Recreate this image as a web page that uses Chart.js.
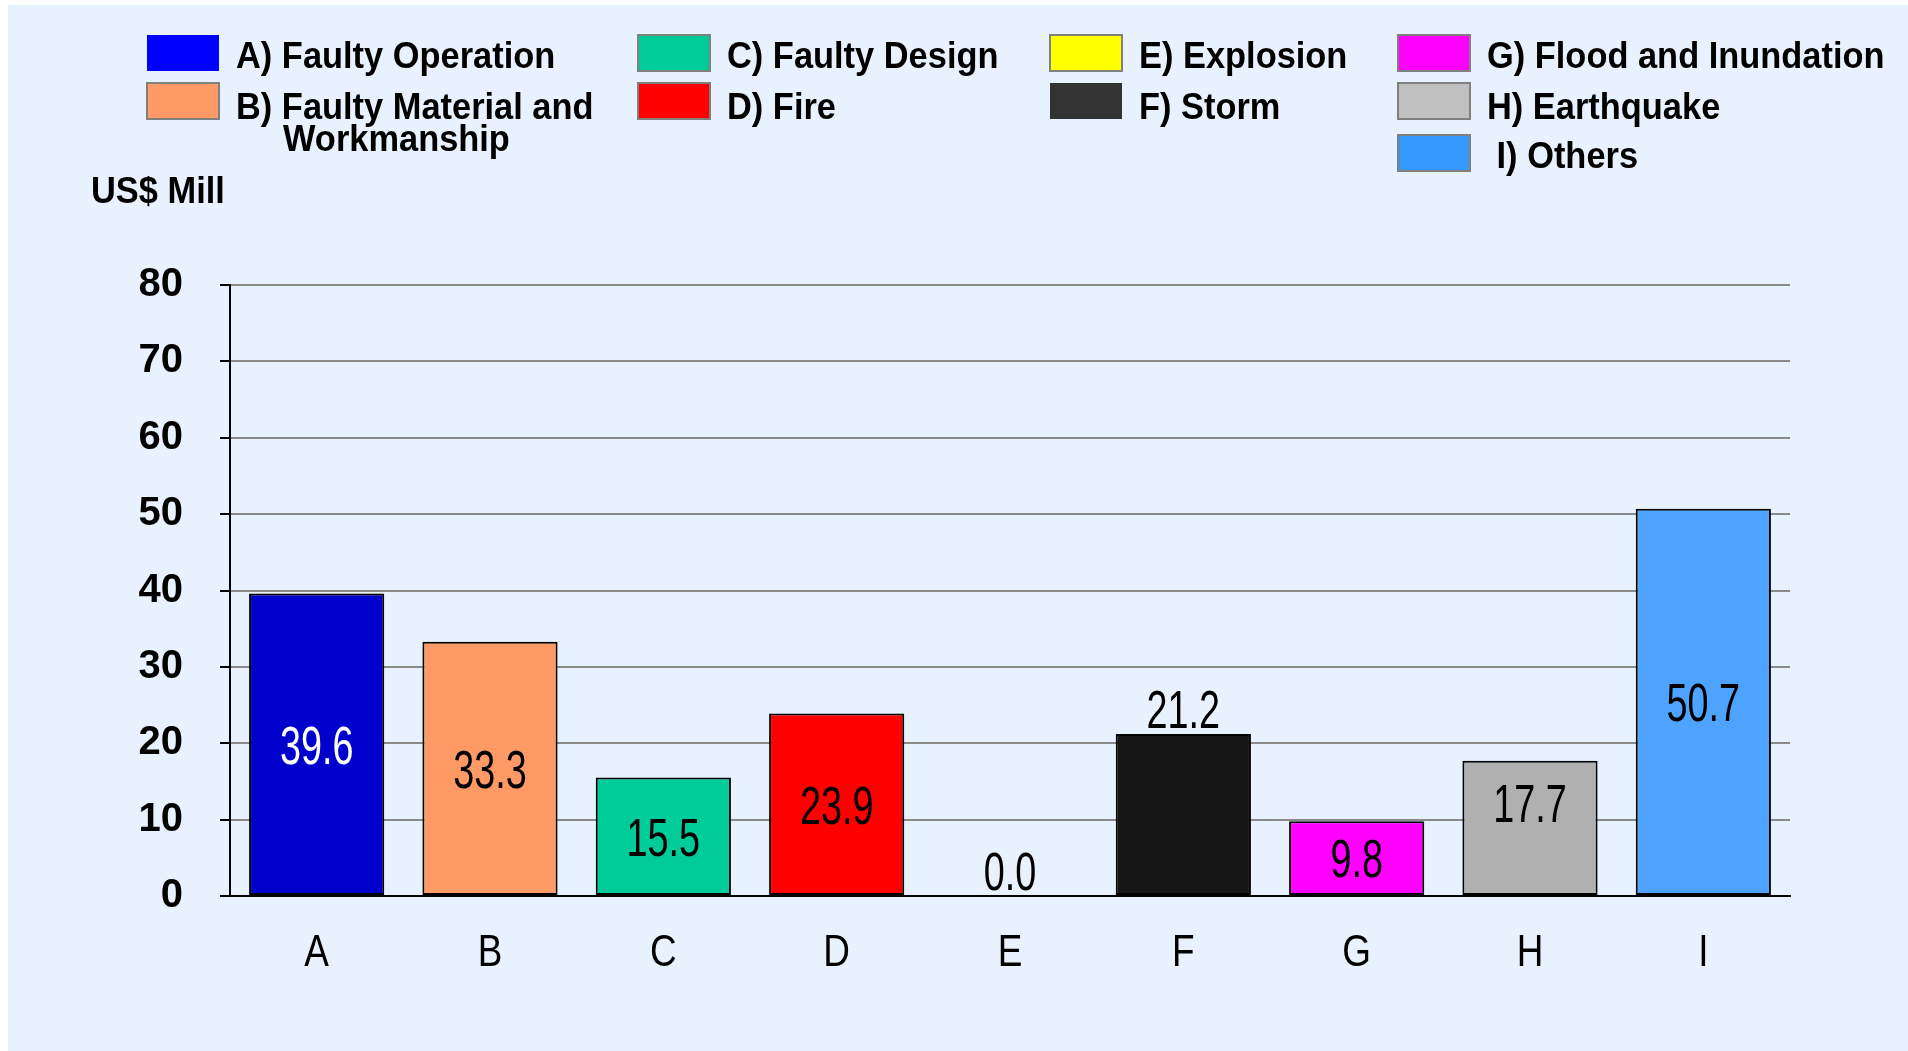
<!DOCTYPE html>
<html>
<head>
<meta charset="utf-8">
<title>Losses by cause</title>
<script src="https://cdn.jsdelivr.net/npm/chart.js@4.4.1/dist/chart.umd.min.js"></script>
<style>
  html, body { margin: 0; padding: 0; background: #ffffff; }
  #wrap { position: relative; width: 1908px; height: 1051px; }
</style>
</head>
<body>
<div id="wrap"><canvas id="lossChart"></canvas></div>
<script>
// === Dados do gráfico ===
const categories = ['A', 'B', 'C', 'D', 'E', 'F', 'G', 'H', 'I'];
const lossValues = [39.6, 33.3, 15.5, 23.9, 0.0, 21.2, 9.8, 17.7, 50.7];
const barColors = ['#0000cc', '#ff9966', '#00cc99', '#ff0000', '#ffff00', '#161616', '#ff00ff', '#b0b0b0', '#4da3ff'];
const swatchColors = ['#0000ff', '#ff9966', '#00cc99', '#ff0000', '#ffff00', '#333333', '#ff00ff', '#c0c0c0', '#3399ff'];
const legendLabels = [
  ['A) Faulty Operation'],
  ['B) Faulty Material and', 'Workmanship'],
  ['C) Faulty Design'],
  ['D) Fire'],
  ['E) Explosion'],
  ['F) Storm'],
  ['G) Flood and Inundation'],
  ['H) Earthquake'],
  [' I) Others']
];
const yTicks = [0, 10, 20, 30, 40, 50, 60, 70, 80];
const unitLabel = 'US$ Mill';

const sans = '"Liberation Sans", Arial, sans-serif';

// texto "condensado": fonte normal comprimida na horizontal
function squeezeText(ctx, text, x, y, sx) {
  ctx.save();
  ctx.translate(x, y);
  ctx.scale(sx, 1);
  ctx.fillText(text, 0, 0);
  ctx.restore();
}

// === Fundo azul claro ===
const panelBg = {
  id: 'panelBg',
  beforeDraw(chart) {
    const ctx = chart.ctx;
    ctx.save();
    ctx.fillStyle = '#ffffff';
    ctx.fillRect(0, 0, chart.width, chart.height);
    ctx.fillStyle = '#e8f2fe';
    ctx.fillRect(8, 5, chart.width - 8, chart.height - 5);
    ctx.restore();
  }
};

// === Legenda em quatro colunas + unidade ===
const customLegend = {
  id: 'customLegend',
  afterDraw(chart) {
    const ctx = chart.ctx;
    const cols = [147, 638, 1050, 1398];
    const rowY = [53, 101, 153];
    const textY = [68, 119, 168];
    ctx.save();
    ctx.font = 'bold 37px ' + sans;
    ctx.textBaseline = 'alphabetic';
    ctx.textAlign = 'left';
    legendLabels.forEach((lines, i) => {
      const col = i < 2 ? 0 : i < 4 ? 1 : i < 6 ? 2 : 3;
      const row = col === 3 ? i - 6 : i % 2;
      const x = cols[col];
      const y = rowY[row];
      ctx.fillStyle = swatchColors[i];
      ctx.fillRect(x, y - 18, 72, 36);
      if (i !== 0 && i !== 5) {
        ctx.strokeStyle = '#808080';
        ctx.lineWidth = 2;
        ctx.strokeRect(x, y - 18, 72, 36);
      }
      ctx.fillStyle = '#000';
      lines.forEach((t, j) => {
        squeezeText(ctx, t, x + 89 + (j ? 47 : 0), textY[row] + j * 32, 0.93);
      });
    });
    squeezeText(ctx, unitLabel, 91, 203, 0.93);
    ctx.restore();
  }
};

// === Rótulos de valor nas barras e categorias ===
const valueLabels = {
  id: 'valueLabels',
  afterDatasetsDraw(chart, args, opts) {
    const ctx = chart.ctx;
    const meta = chart.getDatasetMeta(0);
    const xScale = chart.scales.x;
    ctx.save();
    ctx.textAlign = 'center';
    ctx.textBaseline = 'alphabetic';
    const size = 54;
    const half = size * 0.358;
    ctx.font = size + 'px ' + sans;
    meta.data.forEach((bar, i) => {
      const cat = categories[i];
      let cy;
      if (opts.outside.includes(cat)) {
        cy = bar.y - 25;
      } else {
        cy = (bar.y + bar.base) / 2 + (opts.nudge[cat] || 0);
      }
      ctx.fillStyle = opts.white.includes(cat) ? '#ffffff' : '#000000';
      squeezeText(ctx, lossValues[i].toFixed(1), bar.x, cy + half, 0.7);
    });
    // letras das categorias
    ctx.font = '45px ' + sans;
    ctx.fillStyle = '#000';
    categories.forEach((c, i) => {
      squeezeText(ctx, c, xScale.getPixelForValue(i), 950 + 45 * 0.358, 0.82);
    });
    ctx.restore();
  }
};

new Chart(document.getElementById('lossChart'), {
  type: 'bar',
  data: {
    labels: categories,
    datasets: [{
      label: unitLabel,
      data: lossValues,
      backgroundColor: barColors,
      borderColor: '#000000',
      borderWidth: 2,
      borderSkipped: false,
      categoryPercentage: 1,
      barPercentage: 0.78
    }]
  },
  options: {
    responsive: true,
    maintainAspectRatio: false,
    animation: false,
    layout: { padding: { left: 0, top: 285, right: 118, bottom: 0 } },
    scales: {
      x: {
        grid: { display: false },
        border: { display: true, color: '#000', width: 2 },
        ticks: { display: false },
        afterFit: s => { s.height = 155; }
      },
      y: {
        min: 0,
        max: 80,
        afterBuildTicks: s => { s.ticks = yTicks.map(v => ({ value: v })); },
        grid: { color: '#8a8a8a', lineWidth: 2, tickColor: '#000', tickLength: 10 },
        border: { display: true, color: '#000', width: 2 },
        ticks: { color: '#000', font: { family: sans, size: 40, weight: 'bold' }, padding: 37 },
        afterFit: s => { s.width = 230; }
      }
    },
    plugins: {
      legend: { display: false },
      tooltip: { enabled: false },
      valueLabels: { outside: ['E', 'F'], white: ['A'], nudge: { H: -25 } }
    }
  },
  plugins: [panelBg, valueLabels, customLegend]
});
</script>
</body>
</html>
